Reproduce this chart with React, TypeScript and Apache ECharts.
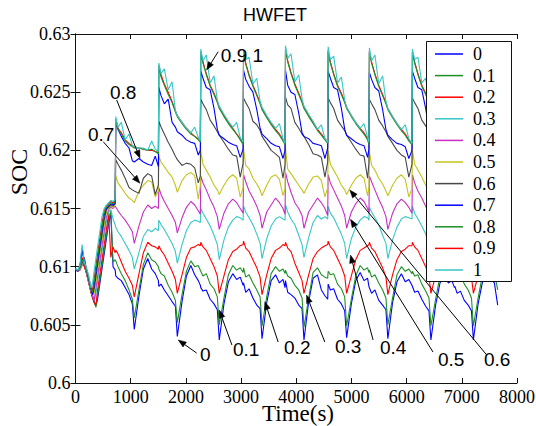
import React, { useEffect, useRef } from "react";
import * as echarts from "echarts";

// ---- data ----
const weights = ["0", "0.1", "0.2", "0.3", "0.4", "0.5", "0.6", "0.7", "0.8", "0.9", "1"];
const colors = ["#0000ff", "#1f8f27", "#ff0000", "#38c6c6", "#c62ec6", "#c4c41e", "#484848", "#0000ff", "#1f8f27", "#ff0000", "#38c6c6"];

const xTickValues = [0, 1000, 2000, 3000, 4000, 5000, 6000, 7000, 8000];
const xTickLabels = ["0", "1000", "2000", "3000", "4000", "5000", "6000", "7000", "8000"];
const yTickValues = [0.6, 0.605, 0.61, 0.615, 0.62, 0.625, 0.63];
const yTickLabels = ["0.6", "0.605", "0.61", "0.615", "0.62", "0.625", "0.63"];

const time = [
  0, 40, 80, 120, 160, 200, 240, 280, 310, 340, 370, 400, 440, 480, 520, 560, 600, 640, 680, 719,
  730, 770, 830, 900, 970, 1030, 1065, 1150, 1230, 1310, 1380, 1445, 1502,
  1510, 1550, 1610, 1680, 1750, 1810, 1845, 1930, 2010, 2090, 2160, 2225, 2262,
  2270, 2310, 2370, 2440, 2510, 2570, 2605, 2690, 2770, 2850, 2920, 2985, 3037,
  3045, 3085, 3145, 3215, 3285, 3345, 3380, 3465, 3545, 3625, 3695, 3760, 3797,
  3805, 3845, 3905, 3975, 4045, 4105, 4140, 4225, 4305, 4385, 4455, 4520, 4570,
  4578, 4618, 4678, 4748, 4818, 4878, 4913, 4998, 5078, 5158, 5228, 5293, 5317,
  5325, 5365, 5425, 5495, 5565, 5625, 5660, 5745, 5825, 5905, 5975, 6040, 6097,
  6105, 6145, 6205, 6275, 6345, 6405, 6440, 6525, 6605, 6685, 6755, 6820, 6867,
  6875, 6915, 6975, 7045, 7115, 7175, 7210, 7295, 7375, 7455, 7525, 7590, 7650,
];

const soc_w0 = [
  0.6098, 0.6096, 0.6099, 0.6116, 0.6104, 0.6095, 0.6087, 0.6079, 0.6074, 0.6070, 0.6067, 0.6072, 0.6085, 0.6098, 0.6111, 0.6124, 0.6137, 0.6146, 0.6100, 0.6097,
  0.6092, 0.6090, 0.6088, 0.6082, 0.6076, 0.6068, 0.6046, 0.6075, 0.6098, 0.6107, 0.6098, 0.6094, 0.6088,
  0.6083, 0.6085, 0.6080, 0.6075, 0.6070, 0.6066, 0.6040, 0.6070, 0.6092, 0.6101, 0.6093, 0.6088, 0.6084,
  0.6082, 0.6079, 0.6080, 0.6072, 0.6068, 0.6063, 0.6037, 0.6068, 0.6087, 0.6094, 0.6089, 0.6091, 0.6084,
  0.6086, 0.6078, 0.6081, 0.6073, 0.6067, 0.6064, 0.6038, 0.6069, 0.6088, 0.6093, 0.6086, 0.6089, 0.6082,
  0.6088, 0.6078, 0.6076, 0.6073, 0.6067, 0.6064, 0.6037, 0.6070, 0.6090, 0.6093, 0.6080, 0.6075, 0.6072,
  0.6085, 0.6080, 0.6081, 0.6072, 0.6068, 0.6062, 0.6039, 0.6068, 0.6088, 0.6095, 0.6088, 0.6090, 0.6083,
  0.6083, 0.6077, 0.6080, 0.6071, 0.6067, 0.6063, 0.6038, 0.6069, 0.6087, 0.6094, 0.6087, 0.6089, 0.6084,
  0.6084, 0.6078, 0.6079, 0.6072, 0.6066, 0.6062, 0.6037, 0.6067, 0.6086, 0.6093, 0.6086, 0.6088, 0.6082,
  0.6083, 0.6077, 0.6079, 0.6071, 0.6067, 0.6062, 0.6037, 0.6068, 0.6087, 0.6094, 0.6089, 0.6086, 0.6067,
];

const soc_w01 = [
  0.6098, 0.6097, 0.6097, 0.6103, 0.6101, 0.6094, 0.6086, 0.6078, 0.6073, 0.6069, 0.6065, 0.6075, 0.6088, 0.6101, 0.6114, 0.6127, 0.6140, 0.6148, 0.6104, 0.6106,
  0.6105, 0.6100, 0.6094, 0.6088, 0.6080, 0.6072, 0.6056, 0.6080, 0.6102, 0.6112, 0.6106, 0.6104, 0.6100,
  0.6098, 0.6094, 0.6092, 0.6084, 0.6078, 0.6071, 0.6052, 0.6076, 0.6096, 0.6105, 0.6100, 0.6101, 0.6097,
  0.6097, 0.6092, 0.6094, 0.6085, 0.6081, 0.6074, 0.6050, 0.6073, 0.6093, 0.6101, 0.6097, 0.6099, 0.6095,
  0.6099, 0.6091, 0.6093, 0.6086, 0.6080, 0.6074, 0.6049, 0.6074, 0.6094, 0.6100, 0.6096, 0.6098, 0.6094,
  0.6097, 0.6092, 0.6090, 0.6084, 0.6080, 0.6073, 0.6048, 0.6073, 0.6095, 0.6099, 0.6093, 0.6091, 0.6090,
  0.6096, 0.6093, 0.6094, 0.6085, 0.6081, 0.6074, 0.6049, 0.6072, 0.6092, 0.6101, 0.6097, 0.6099, 0.6095,
  0.6097, 0.6091, 0.6093, 0.6086, 0.6080, 0.6073, 0.6050, 0.6073, 0.6093, 0.6100, 0.6096, 0.6098, 0.6094,
  0.6096, 0.6092, 0.6093, 0.6085, 0.6079, 0.6073, 0.6049, 0.6072, 0.6092, 0.6100, 0.6097, 0.6098, 0.6095,
  0.6097, 0.6091, 0.6093, 0.6085, 0.6080, 0.6073, 0.6049, 0.6073, 0.6093, 0.6100, 0.6097, 0.6095, 0.6080,
];

const soc_w02 = [
  0.6098, 0.6096, 0.6098, 0.6104, 0.6100, 0.6094, 0.6086, 0.6078, 0.6073, 0.6069, 0.6067, 0.6080, 0.6093, 0.6106, 0.6119, 0.6132, 0.6146, 0.6108, 0.6117, 0.6112,
  0.6114, 0.6111, 0.6104, 0.6096, 0.6090, 0.6084, 0.6074, 0.6094, 0.6112, 0.6121, 0.6118, 0.6117, 0.6115,
  0.6118, 0.6114, 0.6110, 0.6103, 0.6096, 0.6089, 0.6077, 0.6093, 0.6108, 0.6116, 0.6117, 0.6119, 0.6118,
  0.6121, 0.6117, 0.6114, 0.6107, 0.6100, 0.6092, 0.6077, 0.6092, 0.6106, 0.6113, 0.6115, 0.6118, 0.6119,
  0.6122, 0.6116, 0.6113, 0.6106, 0.6099, 0.6091, 0.6076, 0.6093, 0.6107, 0.6114, 0.6116, 0.6119, 0.6118,
  0.6121, 0.6116, 0.6113, 0.6103, 0.6095, 0.6088, 0.6077, 0.6093, 0.6107, 0.6113, 0.6116, 0.6118, 0.6119,
  0.6122, 0.6117, 0.6114, 0.6107, 0.6100, 0.6092, 0.6077, 0.6092, 0.6106, 0.6114, 0.6116, 0.6118, 0.6119,
  0.6121, 0.6116, 0.6113, 0.6106, 0.6099, 0.6091, 0.6076, 0.6093, 0.6106, 0.6113, 0.6115, 0.6118, 0.6118,
  0.6121, 0.6117, 0.6114, 0.6107, 0.6100, 0.6092, 0.6077, 0.6092, 0.6106, 0.6114, 0.6116, 0.6118, 0.6119,
  0.6121, 0.6116, 0.6113, 0.6106, 0.6099, 0.6091, 0.6077, 0.6092, 0.6106, 0.6113, 0.6115, 0.6117, 0.6112,
];

const soc_w03 = [
  0.6098, 0.6097, 0.6100, 0.6112, 0.6106, 0.6095, 0.6087, 0.6079, 0.6075, 0.6071, 0.6077, 0.6087, 0.6100, 0.6113, 0.6126, 0.6139, 0.6147, 0.6149, 0.6141, 0.6136,
  0.6134, 0.6130, 0.6126, 0.6120, 0.6114, 0.6108, 0.6098, 0.6112, 0.6126, 0.6132, 0.6130, 0.6133, 0.6131,
  0.6140, 0.6136, 0.6132, 0.6126, 0.6120, 0.6113, 0.6103, 0.6119, 0.6131, 0.6138, 0.6140, 0.6139, 0.6138,
  0.6150, 0.6146, 0.6141, 0.6135, 0.6127, 0.6119, 0.6106, 0.6123, 0.6134, 0.6140, 0.6143, 0.6142, 0.6140,
  0.6152, 0.6147, 0.6142, 0.6136, 0.6128, 0.6120, 0.6107, 0.6124, 0.6135, 0.6141, 0.6143, 0.6141, 0.6140,
  0.6153, 0.6147, 0.6141, 0.6136, 0.6127, 0.6119, 0.6108, 0.6125, 0.6138, 0.6144, 0.6141, 0.6143, 0.6141,
  0.6152, 0.6146, 0.6142, 0.6135, 0.6128, 0.6120, 0.6107, 0.6124, 0.6134, 0.6140, 0.6143, 0.6142, 0.6140,
  0.6151, 0.6147, 0.6142, 0.6136, 0.6127, 0.6120, 0.6107, 0.6123, 0.6134, 0.6141, 0.6143, 0.6142, 0.6141,
  0.6152, 0.6146, 0.6141, 0.6135, 0.6128, 0.6119, 0.6106, 0.6124, 0.6134, 0.6140, 0.6142, 0.6141, 0.6140,
  0.6151, 0.6146, 0.6142, 0.6136, 0.6128, 0.6120, 0.6107, 0.6123, 0.6134, 0.6140, 0.6142, 0.6141, 0.6138,
];

const soc_w04 = [
  0.6098, 0.6096, 0.6097, 0.6101, 0.6104, 0.6095, 0.6087, 0.6079, 0.6075, 0.6071, 0.6082, 0.6092, 0.6105, 0.6118, 0.6131, 0.6143, 0.6149, 0.6151, 0.6150, 0.6152,
  0.6152, 0.6148, 0.6144, 0.6140, 0.6135, 0.6130, 0.6120, 0.6135, 0.6147, 0.6153, 0.6150, 0.6152, 0.6150,
  0.6168, 0.6162, 0.6156, 0.6150, 0.6144, 0.6138, 0.6129, 0.6142, 0.6151, 0.6156, 0.6153, 0.6148, 0.6145,
  0.6178, 0.6172, 0.6166, 0.6158, 0.6151, 0.6143, 0.6132, 0.6146, 0.6154, 0.6158, 0.6155, 0.6150, 0.6146,
  0.6179, 0.6173, 0.6165, 0.6159, 0.6152, 0.6144, 0.6133, 0.6147, 0.6153, 0.6159, 0.6155, 0.6150, 0.6145,
  0.6181, 0.6173, 0.6164, 0.6155, 0.6150, 0.6144, 0.6133, 0.6147, 0.6153, 0.6159, 0.6155, 0.6150, 0.6144,
  0.6179, 0.6172, 0.6166, 0.6159, 0.6152, 0.6144, 0.6133, 0.6147, 0.6154, 0.6159, 0.6156, 0.6150, 0.6146,
  0.6178, 0.6173, 0.6166, 0.6158, 0.6151, 0.6143, 0.6132, 0.6146, 0.6154, 0.6158, 0.6155, 0.6151, 0.6146,
  0.6179, 0.6172, 0.6165, 0.6159, 0.6152, 0.6144, 0.6133, 0.6147, 0.6154, 0.6159, 0.6155, 0.6150, 0.6146,
  0.6179, 0.6173, 0.6166, 0.6158, 0.6151, 0.6144, 0.6133, 0.6146, 0.6154, 0.6158, 0.6155, 0.6150, 0.6147,
];

const soc_w05 = [
  0.6098, 0.6096, 0.6098, 0.6102, 0.6106, 0.6096, 0.6088, 0.6080, 0.6076, 0.6077, 0.6087, 0.6097, 0.6110, 0.6123, 0.6136, 0.6146, 0.6150, 0.6152, 0.6151, 0.6153,
  0.6178, 0.6172, 0.6168, 0.6163, 0.6159, 0.6157, 0.6155, 0.6165, 0.6170, 0.6174, 0.6173, 0.6160, 0.6165,
  0.6195, 0.6190, 0.6186, 0.6181, 0.6177, 0.6170, 0.6164, 0.6174, 0.6179, 0.6181, 0.6178, 0.6158, 0.6170,
  0.6200, 0.6188, 0.6183, 0.6177, 0.6170, 0.6166, 0.6162, 0.6170, 0.6176, 0.6179, 0.6176, 0.6160, 0.6168,
  0.6201, 0.6187, 0.6184, 0.6176, 0.6171, 0.6166, 0.6161, 0.6170, 0.6177, 0.6179, 0.6175, 0.6161, 0.6167,
  0.6202, 0.6184, 0.6180, 0.6175, 0.6170, 0.6166, 0.6163, 0.6171, 0.6177, 0.6178, 0.6174, 0.6160, 0.6168,
  0.6200, 0.6188, 0.6183, 0.6177, 0.6170, 0.6166, 0.6162, 0.6170, 0.6176, 0.6179, 0.6176, 0.6161, 0.6168,
  0.6199, 0.6187, 0.6183, 0.6176, 0.6171, 0.6165, 0.6161, 0.6170, 0.6176, 0.6179, 0.6175, 0.6160, 0.6167,
  0.6200, 0.6188, 0.6183, 0.6177, 0.6170, 0.6166, 0.6162, 0.6170, 0.6176, 0.6179, 0.6176, 0.6161, 0.6168,
  0.6200, 0.6187, 0.6183, 0.6176, 0.6170, 0.6166, 0.6162, 0.6170, 0.6176, 0.6179, 0.6175, 0.6160, 0.6167,
];

const soc_w06 = [
  0.6098, 0.6097, 0.6099, 0.6103, 0.6108, 0.6097, 0.6089, 0.6081, 0.6076, 0.6081, 0.6091, 0.6101, 0.6114, 0.6127, 0.6140, 0.6149, 0.6151, 0.6153, 0.6152, 0.6154,
  0.6192, 0.6188, 0.6183, 0.6176, 0.6168, 0.6166, 0.6165, 0.6163, 0.6176, 0.6180, 0.6178, 0.6162, 0.6170,
  0.6225, 0.6220, 0.6214, 0.6207, 0.6201, 0.6195, 0.6192, 0.6187, 0.6189, 0.6188, 0.6185, 0.6172, 0.6178,
  0.6244, 0.6240, 0.6235, 0.6226, 0.6221, 0.6216, 0.6213, 0.6207, 0.6201, 0.6196, 0.6195, 0.6177, 0.6189,
  0.6245, 0.6241, 0.6236, 0.6225, 0.6222, 0.6217, 0.6212, 0.6206, 0.6200, 0.6197, 0.6194, 0.6176, 0.6188,
  0.6246, 0.6239, 0.6236, 0.6224, 0.6219, 0.6214, 0.6212, 0.6205, 0.6197, 0.6196, 0.6194, 0.6177, 0.6190,
  0.6245, 0.6241, 0.6236, 0.6226, 0.6221, 0.6217, 0.6213, 0.6207, 0.6201, 0.6196, 0.6195, 0.6176, 0.6189,
  0.6244, 0.6240, 0.6235, 0.6226, 0.6221, 0.6216, 0.6212, 0.6206, 0.6200, 0.6196, 0.6194, 0.6177, 0.6188,
  0.6245, 0.6241, 0.6236, 0.6226, 0.6221, 0.6217, 0.6213, 0.6207, 0.6201, 0.6196, 0.6195, 0.6176, 0.6189,
  0.6245, 0.6240, 0.6235, 0.6225, 0.6221, 0.6216, 0.6212, 0.6206, 0.6200, 0.6196, 0.6194, 0.6177, 0.6186,
];

const soc_w07 = [
  0.6098, 0.6096, 0.6100, 0.6114, 0.6105, 0.6097, 0.6089, 0.6081, 0.6076, 0.6085, 0.6095, 0.6105, 0.6118, 0.6131, 0.6144, 0.6150, 0.6152, 0.6154, 0.6153, 0.6155,
  0.6224, 0.6218, 0.6212, 0.6206, 0.6202, 0.6191, 0.6190, 0.6193, 0.6190, 0.6188, 0.6187, 0.6195, 0.6186,
  0.6254, 0.6247, 0.6240, 0.6244, 0.6224, 0.6220, 0.6216, 0.6213, 0.6209, 0.6207, 0.6206, 0.6196, 0.6200,
  0.6268, 0.6262, 0.6254, 0.6252, 0.6236, 0.6218, 0.6213, 0.6210, 0.6207, 0.6205, 0.6204, 0.6194, 0.6201,
  0.6269, 0.6261, 0.6255, 0.6250, 0.6235, 0.6219, 0.6214, 0.6210, 0.6206, 0.6204, 0.6203, 0.6193, 0.6200,
  0.6269, 0.6256, 0.6250, 0.6248, 0.6232, 0.6215, 0.6212, 0.6210, 0.6206, 0.6205, 0.6204, 0.6193, 0.6202,
  0.6268, 0.6262, 0.6254, 0.6252, 0.6236, 0.6218, 0.6213, 0.6210, 0.6207, 0.6205, 0.6204, 0.6194, 0.6201,
  0.6267, 0.6261, 0.6254, 0.6251, 0.6235, 0.6218, 0.6213, 0.6209, 0.6206, 0.6205, 0.6203, 0.6193, 0.6200,
  0.6268, 0.6262, 0.6254, 0.6252, 0.6236, 0.6218, 0.6213, 0.6210, 0.6207, 0.6205, 0.6204, 0.6194, 0.6201,
  0.6268, 0.6261, 0.6254, 0.6251, 0.6235, 0.6218, 0.6213, 0.6210, 0.6206, 0.6204, 0.6203, 0.6194, 0.6200,
];

const soc_w08 = [
  0.6098, 0.6097, 0.6099, 0.6106, 0.6104, 0.6097, 0.6090, 0.6081, 0.6078, 0.6088, 0.6098, 0.6108, 0.6121, 0.6134, 0.6146, 0.6151, 0.6153, 0.6155, 0.6154, 0.6156,
  0.6226, 0.6218, 0.6214, 0.6208, 0.6205, 0.6203, 0.6202, 0.6202, 0.6201, 0.6200, 0.6201, 0.6199, 0.6197,
  0.6272, 0.6263, 0.6256, 0.6248, 0.6241, 0.6233, 0.6229, 0.6223, 0.6218, 0.6214, 0.6212, 0.6209, 0.6207,
  0.6284, 0.6275, 0.6265, 0.6255, 0.6248, 0.6241, 0.6236, 0.6229, 0.6223, 0.6218, 0.6214, 0.6209, 0.6205,
  0.6284, 0.6274, 0.6264, 0.6255, 0.6247, 0.6240, 0.6235, 0.6228, 0.6222, 0.6217, 0.6213, 0.6208, 0.6205,
  0.6286, 0.6276, 0.6266, 0.6256, 0.6248, 0.6241, 0.6236, 0.6229, 0.6223, 0.6217, 0.6213, 0.6209, 0.6206,
  0.6285, 0.6275, 0.6265, 0.6255, 0.6248, 0.6241, 0.6236, 0.6229, 0.6223, 0.6218, 0.6214, 0.6209, 0.6205,
  0.6284, 0.6275, 0.6265, 0.6255, 0.6247, 0.6240, 0.6235, 0.6228, 0.6222, 0.6217, 0.6213, 0.6208, 0.6205,
  0.6284, 0.6275, 0.6265, 0.6255, 0.6248, 0.6241, 0.6236, 0.6229, 0.6223, 0.6218, 0.6214, 0.6209, 0.6205,
  0.6285, 0.6275, 0.6265, 0.6255, 0.6248, 0.6241, 0.6236, 0.6229, 0.6223, 0.6218, 0.6214, 0.6209, 0.6206,
];

const soc_w09 = [
  0.6098, 0.6096, 0.6100, 0.6108, 0.6103, 0.6098, 0.6091, 0.6082, 0.6080, 0.6091, 0.6101, 0.6111, 0.6124, 0.6137, 0.6148, 0.6152, 0.6154, 0.6156, 0.6155, 0.6157,
  0.6227, 0.6219, 0.6215, 0.6209, 0.6206, 0.6204, 0.6203, 0.6202, 0.6201, 0.6200, 0.6200, 0.6199, 0.6198,
  0.6273, 0.6265, 0.6257, 0.6250, 0.6242, 0.6234, 0.6230, 0.6224, 0.6219, 0.6215, 0.6212, 0.6210, 0.6208,
  0.6285, 0.6276, 0.6266, 0.6256, 0.6249, 0.6242, 0.6237, 0.6230, 0.6224, 0.6219, 0.6214, 0.6210, 0.6206,
  0.6285, 0.6275, 0.6265, 0.6256, 0.6248, 0.6241, 0.6236, 0.6229, 0.6223, 0.6218, 0.6214, 0.6209, 0.6206,
  0.6287, 0.6277, 0.6267, 0.6257, 0.6249, 0.6242, 0.6237, 0.6230, 0.6224, 0.6218, 0.6214, 0.6210, 0.6207,
  0.6286, 0.6276, 0.6266, 0.6256, 0.6249, 0.6242, 0.6237, 0.6230, 0.6224, 0.6219, 0.6215, 0.6210, 0.6206,
  0.6285, 0.6276, 0.6266, 0.6256, 0.6248, 0.6241, 0.6236, 0.6229, 0.6223, 0.6218, 0.6214, 0.6209, 0.6206,
  0.6285, 0.6276, 0.6266, 0.6256, 0.6249, 0.6242, 0.6237, 0.6230, 0.6224, 0.6219, 0.6215, 0.6210, 0.6206,
  0.6286, 0.6276, 0.6266, 0.6256, 0.6249, 0.6242, 0.6237, 0.6230, 0.6224, 0.6219, 0.6215, 0.6210, 0.6207,
];

const soc_w1 = [
  0.6098, 0.6097, 0.6101, 0.6119, 0.6104, 0.6099, 0.6092, 0.6082, 0.6086, 0.6097, 0.6107, 0.6117, 0.6130, 0.6143, 0.6150, 0.6153, 0.6155, 0.6157, 0.6156, 0.6158,
  0.6229, 0.6220, 0.6224, 0.6209, 0.6214, 0.6204, 0.6203, 0.6202, 0.6202, 0.6200, 0.6208, 0.6201, 0.6199,
  0.6275, 0.6266, 0.6270, 0.6252, 0.6259, 0.6234, 0.6230, 0.6224, 0.6219, 0.6215, 0.6220, 0.6211, 0.6208,
  0.6287, 0.6277, 0.6282, 0.6258, 0.6264, 0.6243, 0.6238, 0.6231, 0.6225, 0.6220, 0.6224, 0.6211, 0.6207,
  0.6287, 0.6278, 0.6280, 0.6257, 0.6262, 0.6242, 0.6237, 0.6230, 0.6224, 0.6219, 0.6223, 0.6210, 0.6206,
  0.6290, 0.6279, 0.6283, 0.6259, 0.6265, 0.6244, 0.6238, 0.6231, 0.6225, 0.6218, 0.6222, 0.6210, 0.6207,
  0.6289, 0.6278, 0.6281, 0.6258, 0.6263, 0.6243, 0.6237, 0.6230, 0.6224, 0.6219, 0.6223, 0.6211, 0.6207,
  0.6288, 0.6277, 0.6282, 0.6257, 0.6264, 0.6242, 0.6236, 0.6229, 0.6223, 0.6218, 0.6222, 0.6210, 0.6206,
  0.6287, 0.6278, 0.6280, 0.6258, 0.6262, 0.6243, 0.6237, 0.6230, 0.6224, 0.6219, 0.6222, 0.6211, 0.6207,
  0.6288, 0.6277, 0.6281, 0.6257, 0.6263, 0.6242, 0.6237, 0.6230, 0.6224, 0.6219, 0.6223, 0.6210, 0.6207,
];

const socSeries = [soc_w0, soc_w01, soc_w02, soc_w03, soc_w04, soc_w05, soc_w06, soc_w07, soc_w08, soc_w09, soc_w1];

// annotations: label text, label anchor [t, soc], arrow tail [t, soc], arrow tip [t, soc]
const annotLabels = ["0.9 1", "0.8", "0.7", "0", "0.1", "0.2", "0.3", "0.4", "0.5", "0.6"];
const annotTextAt = [[2634, 0.62811], [625, 0.62493], [226, 0.6214], [2254, 0.60249], [2852, 0.60292], [3779, 0.60309], [4702, 0.60318], [5517, 0.60309], [6569, 0.60198], [7402, 0.60198]];
const annotTail = [[2586, 0.62848], [746, 0.62433], [503, 0.62074], [2194, 0.60258], [2834, 0.60327], [3672, 0.60352], [4518, 0.60352], [5392, 0.6037], [6478, 0.60266], [7451, 0.60241]];
const annotTip = [[2376, 0.62691], [1168, 0.61932], [1168, 0.61717], [1861, 0.6037], [2604, 0.60628], [3431, 0.60699], [4186, 0.60756], [4983, 0.611], [4983, 0.61407], [4970, 0.61659]];

const SERIF = "Liberation Serif";
const SANS = "Liberation Sans";

export default function App() {
  const ref = useRef<HTMLDivElement>(null);
  useEffect(() => {
    document.body.style.margin = "0";
    if (!ref.current) return;
    const chart = echarts.init(ref.current, undefined, { renderer: "svg" });
    const axisCommon = {
      axisLine: { show: true, lineStyle: { color: "#111", width: 1 } },
      axisTick: { show: true, inside: true, length: 5, lineStyle: { color: "#111" } },
      axisLabel: { show: false },
      splitLine: { show: false },
    };
    const series = weights.map((w, i) => ({
      name: w,
      type: "line",
      data: time.map((t, k) => [t, socSeries[i][k]]),
      symbol: "none",
      showSymbol: false,
      z: w === "0.9" ? 1 : 2,
      lineStyle: { color: colors[i], width: 1.1 },
      itemStyle: { color: colors[i] },
      emphasis: { disabled: true },
    }));
    chart.setOption({
      animation: false,
      backgroundColor: "#fff",
      grid: { left: 75.5, right: 19, top: 34, bottom: 43, containLabel: false, outerBoundsMode: "none" },
      xAxis: [
        { type: "value", min: 0, max: 8000, interval: 1000, position: "bottom", ...axisCommon },
        { type: "value", min: 0, max: 8000, interval: 1000, position: "top", ...axisCommon },
      ],
      yAxis: [
        { type: "value", min: 0.6, max: 0.63, interval: 0.005, position: "left", ...axisCommon },
        { type: "value", min: 0.6, max: 0.63, interval: 0.005, position: "right", ...axisCommon },
      ],
      legend: { show: false },
      tooltip: { show: false },
      series,
    });

    const toPx = (p: number[]) => chart.convertToPixel({ xAxisIndex: 0, yAxisIndex: 0 }, p) as number[];
    const g: any[] = [];
    // title
    g.push({
      type: "text", z: 100, x: 275, y: 15,
      style: { text: "HWFET", fontFamily: SANS, fontSize: 18, fill: "#000", align: "center", verticalAlign: "middle" },
    });
    // tick labels
    xTickValues.forEach((v, i) => {
      const p = toPx([v, 0.6]);
      g.push({
        type: "text", z: 100, x: p[0], y: p[1] + 5,
        style: { text: xTickLabels[i], fontFamily: SERIF, fontSize: 18, fill: "#000", align: "center", verticalAlign: "top" },
      });
    });
    yTickValues.forEach((v, i) => {
      const p = toPx([0, v]);
      g.push({
        type: "text", z: 100, x: p[0] - 5, y: p[1],
        style: { text: yTickLabels[i], fontFamily: SERIF, fontSize: 18, fill: "#000", align: "right", verticalAlign: "middle" },
      });
    });
    // annotations
    for (let i = 0; i < annotLabels.length; i++) {
      const tp = toPx(annotTextAt[i]);
      const ta = toPx(annotTail[i]);
      const tip = toPx(annotTip[i]);
      const dx = tip[0] - ta[0];
      const dy = tip[1] - ta[1];
      const len = Math.sqrt(dx * dx + dy * dy) || 1;
      const ux = dx / len, uy = dy / len;
      const L = 8, W = 3;
      const bx = tip[0] - ux * L, by = tip[1] - uy * L;
      g.push({
        type: "line", z: 100,
        shape: { x1: ta[0], y1: ta[1], x2: bx, y2: by },
        style: { stroke: "#000", lineWidth: 1 },
      });
      g.push({
        type: "polygon", z: 100,
        shape: { points: [[tip[0], tip[1]], [bx - uy * W, by + ux * W], [bx + uy * W, by - ux * W]] },
        style: { fill: "#000", stroke: "#000", lineWidth: 0.5 },
      });
      g.push({
        type: "text", z: 100, x: tp[0], y: tp[1],
        style: { text: annotLabels[i], fontFamily: SANS, fontSize: 19, fill: "#000", align: "left", verticalAlign: "middle" },
      });
    }
    // legend box
    const lx = 426, ly = 41, lw = 85, lh = 240;
    g.push({
      type: "rect", z: 110,
      shape: { x: lx + 0.5, y: ly + 0.5, width: lw, height: lh },
      style: { fill: "#fff", stroke: "#111", lineWidth: 1 },
    });
    weights.forEach((w, i) => {
      const cy = ly + 13 + i * 21.6;
      g.push({
        type: "line", z: 111,
        shape: { x1: lx + 9, y1: cy, x2: lx + 37, y2: cy },
        style: { stroke: colors[i], lineWidth: 1.5 },
      });
      g.push({
        type: "text", z: 111, x: lx + 47, y: cy,
        style: { text: w, fontFamily: SERIF, fontSize: 18, fill: "#000", align: "left", verticalAlign: "middle" },
      });
    });
    // axis names
    g.push({
      type: "text", z: 100, x: 298, y: 413,
      style: { text: "Time(s)", fontFamily: SERIF, fontSize: 23, fill: "#000", align: "center", verticalAlign: "middle" },
    });
    g.push({
      type: "text", z: 100, x: 19, y: 172, rotation: Math.PI / 2,
      style: { text: "SOC", fontFamily: SERIF, fontSize: 24, fill: "#000", align: "center", verticalAlign: "middle" },
    });
    chart.setOption({ graphic: g });

    return () => chart.dispose();
  }, []);
  return (
    <div
      ref={ref}
      style={{ position: "absolute", left: 0, top: 0, width: 536, height: 426, background: "#fff" }}
    />
  );
}
